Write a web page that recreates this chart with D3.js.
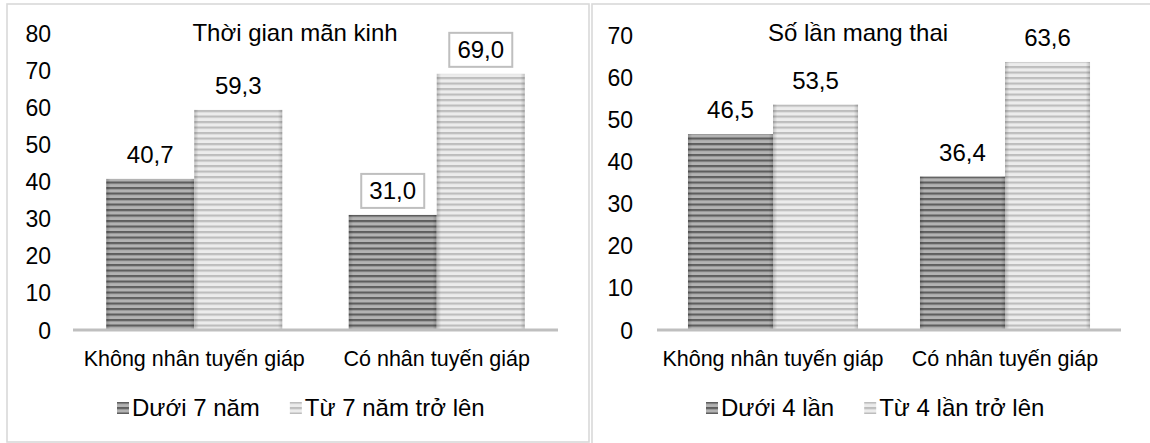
<!DOCTYPE html>
<html>
<head>
<meta charset="utf-8">
<script src="https://cdn.jsdelivr.net/npm/d3@7"></script>
<style>
  html, body { margin: 0; padding: 0; background: #fff; }
  svg { display: block; font-family: "Liberation Sans", Arial, sans-serif; }
</style>
</head>
<body>
<svg id="chart" width="1150" height="443"></svg>
<script>
// Shared categories
const categories = ["Không nhân tuyến giáp", "Có nhân tuyến giáp"];

// Panel 1: menopause duration
const title1 = "Thời gian mãn kinh";
const series1 = ["Dưới 7 năm", "Từ 7 năm trở lên"];
const values1 = [[40.7, 59.3], [31.0, 69.0]];   // [category][series]
const boxed1 = [[false, false], [true, true]];
const ticks1 = [0, 10, 20, 30, 40, 50, 60, 70, 80];

// Panel 2: number of pregnancies
const title2 = "Số lần mang thai";
const series2 = ["Dưới 4 lần", "Từ 4 lần trở lên"];
const values2 = [[46.5, 53.5], [36.4, 63.6]];
const boxed2 = [[false, false], [false, false]];
const ticks2 = [0, 10, 20, 30, 40, 50, 60, 70];

const svg = d3.select("#chart");
const defs = svg.append("defs");

// Striped fills for the two series
function stripePattern(id, base, line) {
  const p = defs.append("pattern")
    .attr("id", id).attr("patternUnits", "userSpaceOnUse")
    .attr("width", 10).attr("height", 5.5);
  p.append("rect").attr("width", 10).attr("height", 5.5).attr("fill", base);
  p.append("rect").attr("y", 0).attr("width", 10).attr("height", 2.2).attr("fill", line);
}
stripePattern("stripeDark", "#b3b3b3", "#5e5e5e");
stripePattern("stripeLight", "#ececec", "#bdbdbd");

// soft edge shading on the bars
const shade = defs.append("linearGradient").attr("id", "edgeShade")
  .attr("x1", 0).attr("x2", 1).attr("y1", 0).attr("y2", 0);
shade.append("stop").attr("offset", 0).attr("stop-color", "#000").attr("stop-opacity", 0.18);
shade.append("stop").attr("offset", 0.05).attr("stop-color", "#000").attr("stop-opacity", 0);
shade.append("stop").attr("offset", 0.95).attr("stop-color", "#000").attr("stop-opacity", 0);
shade.append("stop").attr("offset", 1).attr("stop-color", "#000").attr("stop-opacity", 0.18);

const fills = ["url(#stripeDark)", "url(#stripeLight)"];
const swatch = ["#7a7a7a", "#cfcfcf"];

function drawPanel(cfg) {
  const g = svg.append("g");

  // panel frame
  g.append("rect")
    .attr("x", cfg.frame[0]).attr("y", cfg.frame[1])
    .attr("width", cfg.frame[2]).attr("height", cfg.frame[3])
    .attr("fill", "#fff").attr("stroke", "#d9d9d9").attr("stroke-width", 1.6);

  const y = d3.scaleLinear().domain(cfg.yDomain).range([cfg.y0, cfg.yTop]);
  const x0 = d3.scaleBand().domain(categories).range(cfg.xRange)
    .paddingInner(cfg.pad).paddingOuter(cfg.pad / 2);
  const x1 = d3.scaleBand().domain([0, 1]).range([0, x0.bandwidth()]);

  // y axis labels only
  const yAxis = d3.axisLeft(y).tickValues(cfg.ticks).tickSize(0).tickPadding(0)
    .tickFormat(d3.format("d"));
  const ya = g.append("g").attr("transform", `translate(${cfg.yLabelX},0)`).call(yAxis);
  ya.select(".domain").remove();
  ya.selectAll("text").attr("font-size", 23).attr("fill", "#000")
    .attr("font-family", "Liberation Sans, Arial, sans-serif").attr("dy", "0.35em");

  // title
  g.append("text").attr("x", cfg.titleX).attr("y", 33).attr("dy", "0.35em")
    .attr("text-anchor", "middle").attr("font-size", 24).text(cfg.title);

  // bars
  const groups = g.selectAll(".grp").data(categories).join("g")
    .attr("transform", d => `translate(${x0(d)},0)`);
  groups.each(function(cat, ci) {
    const gg = d3.select(this);
    cfg.values[ci].forEach((v, si) => {
      const bx = x1(si), bw = x1.bandwidth();
      gg.append("rect").attr("x", bx).attr("y", y(v))
        .attr("width", bw).attr("height", y(0) - y(v)).attr("fill", fills[si]);
      gg.append("rect").attr("x", bx).attr("y", y(v))
        .attr("width", bw).attr("height", y(0) - y(v)).attr("fill", "url(#edgeShade)");
      const label = d3.format(".1f")(v).replace(".", ",");
      const cx = bx + bw / 2, cy = y(v) - 24;
      if (cfg.boxed[ci][si]) {
        gg.append("rect").attr("x", cx - 31.5).attr("y", cy - 17)
          .attr("width", 63).attr("height", 34)
          .attr("fill", "#fff").attr("stroke", "#bfbfbf").attr("stroke-width", 2);
      }
      gg.append("text").attr("x", cx).attr("y", cy).attr("dy", "0.35em")
        .attr("text-anchor", "middle").attr("font-size", 24).text(label);
    });
  });

  // baseline
  g.append("line").attr("x1", cfg.xRange[0]).attr("x2", cfg.xRange[1])
    .attr("y1", y(0)).attr("y2", y(0)).attr("stroke", "#bfbfbf").attr("stroke-width", 3);

  // category labels
  g.selectAll(".cat").data(categories).join("text")
    .attr("x", d => x0(d) + x0.bandwidth() / 2).attr("y", 358).attr("dy", "0.35em")
    .attr("text-anchor", "middle").attr("font-size", 21.5).text(d => d);

  // legend
  let lx = cfg.legendX;
  cfg.series.forEach((s, i) => {
    g.append("rect").attr("x", lx).attr("y", 402).attr("width", 12).attr("height", 12)
      .attr("fill", i === 0 ? "url(#stripeDark)" : "url(#stripeLight)");
    const t = g.append("text").attr("x", lx + 15).attr("y", 408).attr("dy", "0.35em")
      .attr("font-size", 24).text(s);
    lx += 15 + t.node().getComputedTextLength() + 30;
  });
}

drawPanel({
  frame: [7, 4, 582, 438], title: title1, titleX: 295,
  yDomain: [0, 80], y0: 330, yTop: 33, ticks: ticks1, yLabelX: 51,
  xRange: [73, 558], pad: 0.274, values: values1, boxed: boxed1,
  series: series1, legendX: 117
});
drawPanel({
  frame: [592, 4, 600, 450], title: title2, titleX: 858,
  yDomain: [0, 70], y0: 330, yTop: 35, ticks: ticks2, yLabelX: 633,
  xRange: [657, 1121], pad: 0.267, values: values2, boxed: boxed2,
  series: series2, legendX: 706
});
</script>
</body>
</html>
